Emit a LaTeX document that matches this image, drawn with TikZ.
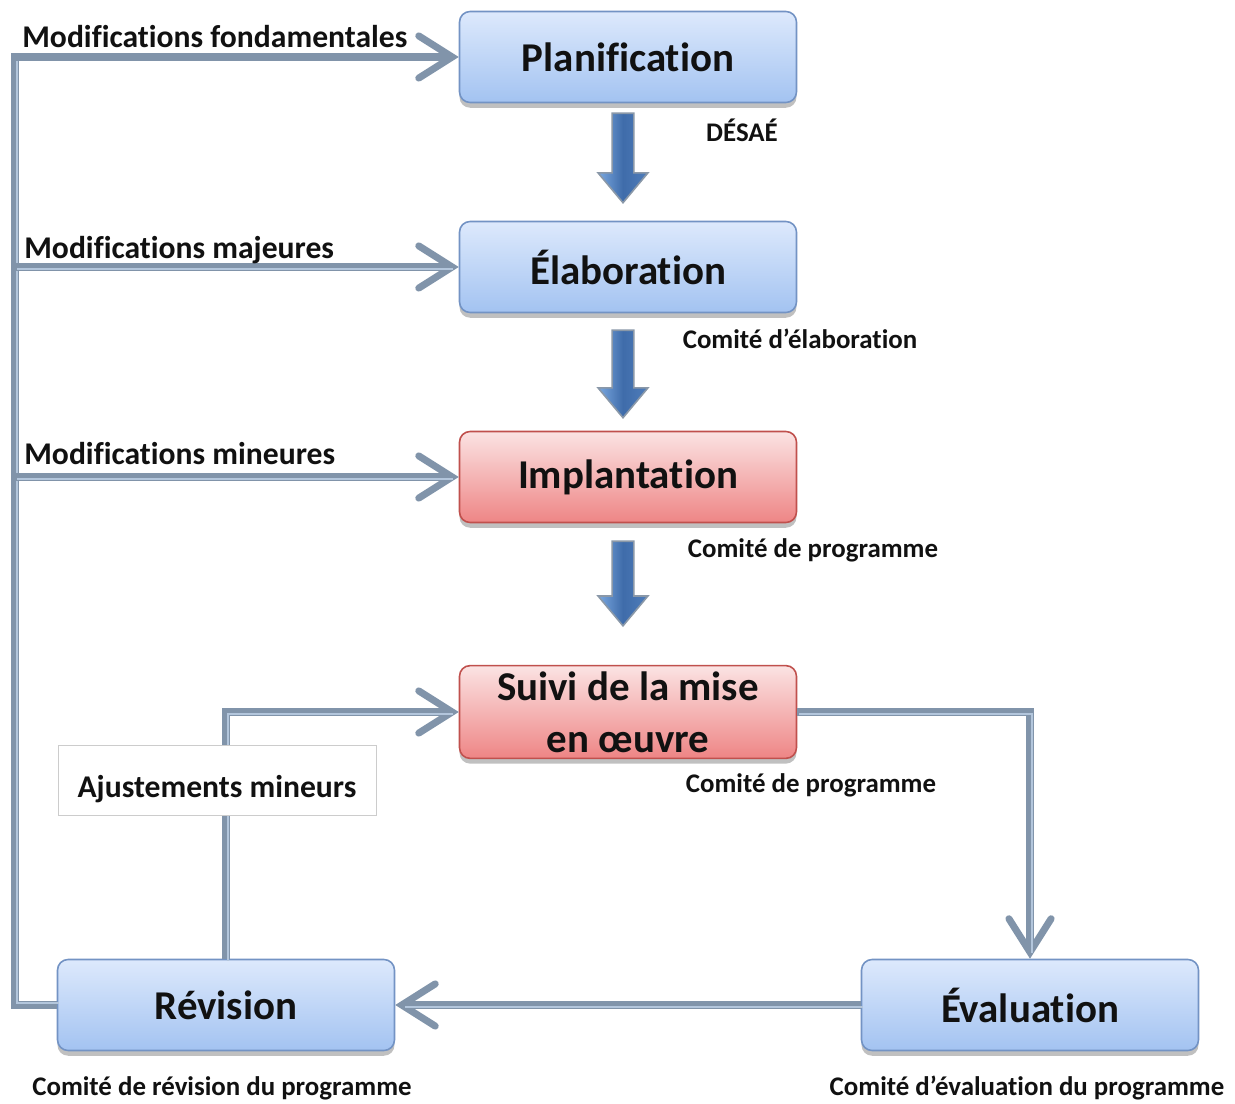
\documentclass[tikz,border=0pt]{standalone}
\usepackage{fontspec}
\setmainfont{Carlito}[Ligatures=NoCommon]
\usetikzlibrary{arrows.meta,calc,shadows}
\definecolor{blueTop}{HTML}{DDE9FC}
\definecolor{blueBot}{HTML}{A3C3F1}
\definecolor{blueEdge}{HTML}{7393C4}
\definecolor{redTop}{HTML}{FBE3E3}
\definecolor{redBot}{HTML}{EE8585}
\definecolor{redEdge}{HTML}{C0504D}
\definecolor{lineC}{HTML}{8194AA}
\definecolor{lineL}{HTML}{B3C6DC}
\definecolor{bA}{HTML}{7AA8E0}
\definecolor{bB}{HTML}{3F6CAA}
\definecolor{bC}{HTML}{4F7DBA}
\definecolor{bE}{HTML}{8A98A8}
\definecolor{txt}{HTML}{111111}
\tikzset{
  stagebox/.style={rounded corners=6pt, minimum width=6.74cm, minimum height=1.82cm,
    line width=0.9pt, align=center, text=txt,
    font=\fontsize{23.3}{29.6}\selectfont\bfseries,
    drop shadow={shadow xshift=0pt, shadow yshift=-3pt, opacity=0.35, fill=black!70}},
  bluebox/.style={stagebox, top color=blueTop, bottom color=blueBot, draw=blueEdge},
  redbox/.style={stagebox, top color=redTop, bottom color=redBot, draw=redEdge},
  conn/.style={line width=4pt, draw=lineC, line join=miter},
  tipped/.style={conn, -{Straight Barb[length=19pt,width=24pt,line cap=round]}},
  hl/.style={line width=1.1pt, draw=lineL, transform canvas={xshift=1.1pt,yshift=-1.1pt}},
  lab/.style={font=\fontsize{15.3}{18}\selectfont\bfseries, text=txt, inner sep=0pt},
  modlab/.style={font=\fontsize{18}{21}\selectfont\bfseries, text=txt, inner sep=0pt, anchor=base west},
}
\newcommand\blockarr[2]{%
  \path[left color=bA, right color=bC, middle color=bB, draw=bE, line width=0.9pt, line join=miter]
    let \p1=(#1), \p2=(#2) in
    (\x1-6.2pt,\y1) -- (\x1+6.2pt,\y1) -- (\x1+6.2pt,\y2+17pt) -- (\x1+14.2pt,\y2+17pt)
    -- (\x1,\y2) -- (\x1-14.2pt,\y2+17pt) -- (\x1-6.2pt,\y2+17pt) -- cycle;}
\begin{document}
\begin{tikzpicture}[x=0.02cm,y=-0.02cm]
\useasboundingbox (0,0) rectangle (1235,1104);
\fill[white] (0,0) rectangle (1235,1104);

% stages
\node[bluebox] (plan) at (628,57) {Planification};
\node[bluebox] (elab) at (628,267) {Élaboration};
\node[redbox]  (impl) at (628,477) {Implantation};
\node[redbox]  (suivi) at (628,712) {Suivi de la mise\\en œuvre};
\node[bluebox] (rev) at (226,1005) {Révision};
\node[bluebox] (eval) at (1030,1005) {Évaluation};

% block arrows
\coordinate (a1s) at ($(plan.south)+(-5,10)$);
\coordinate (a1e) at ($(elab.north)+(-5,-18)$);
\coordinate (a2s) at ($(elab.south)+(-5,17)$);
\coordinate (a2e) at ($(impl.north)+(-5,-13)$);
\coordinate (a3s) at ($(impl.south)+(-5,18)$);
\coordinate (a3e) at ($(suivi.north)+(-5,-39)$);
\blockarr{a1s}{a1e}
\blockarr{a2s}{a2e}
\blockarr{a3s}{a3e}

% left feedback loop
\coordinate (Lx) at (15,0);
\draw[conn] (rev.west) -- (rev.west -| Lx) -- (plan.west -| Lx) -- ($(plan.west)+(-12,0)$);
\draw[hl] ($(rev.west)+(0,-4)$) -- ($(rev.west -| Lx)+(0,-4)$) -- (plan.west -| Lx) -- ($(plan.west)+(-8,0)$);
\draw[tipped] (plan.west -| Lx) -- (plan.west);
\draw[tipped] (elab.west -| Lx) -- (elab.west);
\draw[hl] (elab.west -| Lx) -- ($(elab.west)+(-8,0)$);
\draw[tipped] (impl.west -| Lx) -- (impl.west);
\draw[hl] (impl.west -| Lx) -- ($(impl.west)+(-8,0)$);

% ajustements loop
\draw[tipped] (rev.north) -- (rev.north |- suivi.west) -- (suivi.west);
\draw[hl] (rev.north) -- (rev.north |- suivi.west) -- ($(suivi.west)+(-8,0)$);
\node[draw=black!20, fill=white, minimum width=6.36cm, minimum height=1.4cm, inner sep=0pt,
      text height=24pt, text depth=4pt,
      font=\fontsize{18}{21}\selectfont\bfseries, text=txt] (ajust) at (217,780) {Ajustements mineurs};

% suivi -> evaluation
\draw[tipped] (suivi.east) -| (eval.north);
\draw[hl] (suivi.east) -| ($(eval.north)+(0,-8)$);

% evaluation -> revision
\draw[tipped] (eval.west) -- (rev.east);
\draw[hl] (eval.west) -- ($(rev.east)+(8,0)$);

% modification labels
\node[modlab] (m1) at (22,48) {Modifications fondamentales};
\node[modlab] (m2) at (24,259) {Modifications majeures};
\node[modlab] (m3) at (24,465) {Modifications mineures};

% committee labels
\node[lab] (l1) at (742,130) {DÉSAÉ};
\node[lab] (l2) at (800,339) {Comité d’élaboration};
\node[lab] (l3) at (813,550) {Comité de programme};
\node[lab] (l4) at (811,785) {Comité de programme};
\node[lab] (l5) at (222,1088) {Comité de révision du programme};
\node[lab] (l6) at (1027,1088) {Comité d’évaluation du programme};
\end{tikzpicture}
\end{document}
